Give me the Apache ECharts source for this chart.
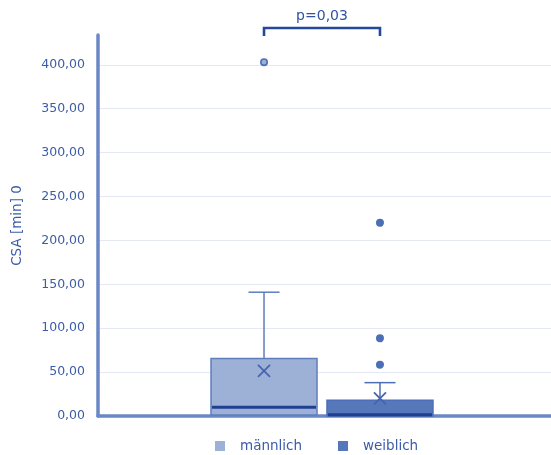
<!DOCTYPE html>
<html><head><meta charset="utf-8">
<script src="https://cdn.jsdelivr.net/npm/echarts@6/dist/echarts.min.js"></script>
<style>html,body{margin:0;padding:0;background:#fff}#c{width:551px;height:455px}</style>
</head><body><div id="c"></div>
<script>
// ---- data ----
const groups = ['männlich', 'weiblich'];
// [min, Q1, median, Q3, max, mean]
const maleStats = [0, 1, 10, 65.5, 141, 51.5];
const femaleStats = [0, 0, 1.5, 18, 38, 20];
const maleOutliers = [403];
const femaleOutliers = [220, 88.5, 58.5];
const yTicks = [0, 50, 100, 150, 200, 250, 300, 350, 400];
const pLabel = 'p=0,03';
const yName = 'CSA [min] 0';

// ---- styles ----
const FONT = 'DejaVu Sans';
const TXT = '#3c5caa';
const fills = ['#9db1d7', '#5677b9'];
const borders = ['#5f7dbd', '#4d6fb5'];
const MEDIAN = '#1f3f93';
const AXIS = '#6a88c5';

function boxLayout(api, idx) {
  const bw = api.size([1, 0])[0];
  const c = api.coord([0, 0])[0];
  const w = bw * 0.234;
  const gap = bw * 0.022;
  return { cx: c - 2.5 + (idx === 0 ? -1 : 1) * (w / 2 + gap / 2), w: w };
}

function renderBox(idx) {
  return function (params, api) {
    const L = boxLayout(api, idx);
    const cx = L.cx, w = L.w;
    const y = k => api.coord([0, api.value(k)])[1];
    const yMin = y(1), yQ1 = y(2), yMed = y(3), yQ3 = y(4), yMax = y(5), yMean = y(6);
    const capW = 31;
    const xs = 6;
    const ls = { stroke: borders[idx], lineWidth: 1.5 };
    const ch = [];
    ch.push({ type: 'rect', shape: { x: cx - w / 2, y: yQ3, width: w, height: Math.max(yQ1 - yQ3, 1) },
      style: { fill: fills[idx], stroke: borders[idx], lineWidth: 1.5 } });
    ch.push({ type: 'line', shape: { x1: cx, y1: yQ3, x2: cx, y2: yMax }, style: ls });
    ch.push({ type: 'line', shape: { x1: cx - capW / 2, y1: yMax, x2: cx + capW / 2, y2: yMax }, style: ls });
    if (yMin - yQ1 > 1) {
      ch.push({ type: 'line', shape: { x1: cx, y1: yQ1, x2: cx, y2: yMin }, style: ls });
      ch.push({ type: 'line', shape: { x1: cx - capW / 2, y1: yMin, x2: cx + capW / 2, y2: yMin }, style: ls });
    }
    ch.push({ type: 'line', shape: { x1: cx - w / 2 + 1, y1: yMed, x2: cx + w / 2 - 1, y2: yMed },
      style: { stroke: MEDIAN, lineWidth: 3 } });
    ch.push({ type: 'line', shape: { x1: cx - xs, y1: yMean - xs, x2: cx + xs, y2: yMean + xs }, style: { stroke: '#4765ae', lineWidth: 1.8 } });
    ch.push({ type: 'line', shape: { x1: cx - xs, y1: yMean + xs, x2: cx + xs, y2: yMean - xs }, style: { stroke: '#4765ae', lineWidth: 1.8 } });
    return { type: 'group', children: ch };
  };
}

function renderOutlier(idx) {
  return function (params, api) {
    const L = boxLayout(api, idx);
    const p = api.coord([0, api.value(1)]);
    return { type: 'circle', shape: { cx: L.cx, cy: p[1], r: 3.2 },
      style: { fill: idx === 0 ? '#9db1d7' : '#4d6fb5', stroke: '#4d6fb5', lineWidth: 1.6 } };
  };
}

function renderBracket(params, api) {
  const a = boxLayout(api, 0).cx, b = boxLayout(api, 1).cx;
  const top = params.coordSys.y;
  const yb = top - 7;
  return { type: 'group', children: [
    { type: 'polyline', shape: { points: [[a, top + 1], [a, yb], [b, yb], [b, top + 1]] },
      style: { stroke: '#24489a', lineWidth: 2.6, fill: null } },
    { type: 'text', style: { text: pLabel, x: (a + b) / 2, y: yb - 5, align: 'center', verticalAlign: 'bottom',
      fill: '#2f52a3', font: '14px "' + FONT + '"' } }
  ] };
}

const chart = echarts.init(document.getElementById('c'));
chart.setOption({
  animation: false,
  backgroundColor: '#fff',
  grid: { left: 98, right: 0, top: 35, bottom: 39 },
  legend: {
    data: groups, left: 210, top: 434, icon: 'rect', itemWidth: 10, itemHeight: 10, itemGap: 36,
    textStyle: { color: TXT, fontSize: 13.5, fontFamily: FONT, padding: [0, 0, 0, 10] }
  },
  xAxis: {
    type: 'category', data: [''],
    axisLine: { show: true, lineStyle: { color: AXIS, width: 3.5 } },
    axisTick: { show: false }, axisLabel: { show: false }, splitLine: { show: false }
  },
  yAxis: {
    type: 'value', min: 0, max: 434, interval: 50,
    name: yName, nameLocation: 'middle', nameGap: 74, nameRotate: 90,
    nameTextStyle: { color: TXT, fontSize: 13.5, fontFamily: FONT },
    axisLine: { show: true, lineStyle: { color: AXIS, width: 3.5 } },
    axisTick: { show: false },
    axisLabel: {
      color: TXT, fontSize: 12.5, fontFamily: FONT, margin: 13, showMaxLabel: false,
      formatter: v => yTicks.indexOf(v) >= 0 ? v.toFixed(2).replace('.', ',') : ''
    },
    splitLine: { show: true, showMaxLine: false, lineStyle: { color: '#e3e8f3', width: 1.2 } }
  },
  series: [
    { name: groups[0], type: 'custom', renderItem: renderBox(0), itemStyle: { color: fills[0] },
      encode: { x: 0, y: [1, 2, 3, 4, 5, 6] }, data: [[0].concat(maleStats)], z: 2 },
    { name: groups[1], type: 'custom', renderItem: renderBox(1), itemStyle: { color: fills[1] },
      encode: { x: 0, y: [1, 2, 3, 4, 5, 6] }, data: [[0].concat(femaleStats)], z: 2 },
    { name: groups[0], type: 'custom', renderItem: renderOutlier(0), itemStyle: { color: fills[0] },
      encode: { x: 0, y: 1 }, data: maleOutliers.map(v => [0, v]), z: 3 },
    { name: groups[1], type: 'custom', renderItem: renderOutlier(1), itemStyle: { color: fills[1] },
      encode: { x: 0, y: 1 }, data: femaleOutliers.map(v => [0, v]), z: 3 },
    { name: 'bracket', type: 'custom', renderItem: renderBracket, data: [[0]], clip: false, z: 4 }
  ]
});
</script></body></html>
